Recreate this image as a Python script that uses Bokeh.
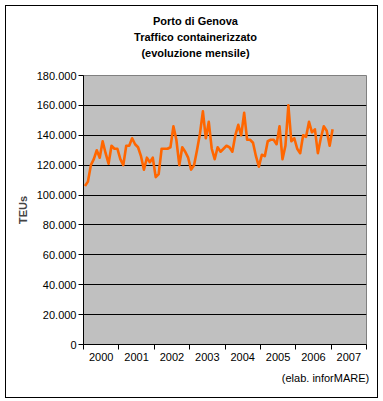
from bokeh.plotting import figure
from bokeh.models import FixedTicker, Range1d, LinearAxis
from bokeh.embed import file_html
from bokeh.resources import INLINE

# ---- data ----
years = ["2000", "2001", "2002", "2003", "2004", "2005", "2006", "2007"]
y_ticks = [0, 20000, 40000, 60000, 80000, 100000, 120000, 140000, 160000, 180000]
y_tick_labels = ["0", "20.000", "40.000", "60.000", "80.000", "100.000",
                 "120.000", "140.000", "160.000", "180.000"]
# monthly TEUs, Jan 2000 ... Jan 2007
teu_2000 = [106000, 109000, 120000, 124000, 130000, 125000, 136000, 128000, 121000, 133000, 131000, 131000]
teu_2001 = [124000, 120000, 133000, 133000, 138000, 134000, 132000, 126000, 117000, 125000, 122000, 125000]
teu_2002 = [112000, 114000, 131000, 131000, 131000, 132000, 146000, 137000, 120000, 132000, 129000, 125000]
teu_2003 = [117000, 120000, 130000, 141000, 156000, 138000, 149000, 131000, 124000, 132000, 129000, 131000]
teu_2004 = [133000, 132000, 129000, 140000, 147000, 140000, 155000, 137000, 137000, 135000, 126000, 119000]
teu_2005 = [127000, 126000, 136000, 137000, 137000, 134000, 146000, 124000, 133000, 160000, 136000, 138000]
teu_2006 = [131000, 128000, 140000, 139000, 149000, 142000, 144000, 128000, 138000, 146000, 143000, 133000]
teu_2007 = [144000]
teu = teu_2000 + teu_2001 + teu_2002 + teu_2003 + teu_2004 + teu_2005 + teu_2006 + teu_2007
months = list(range(len(teu)))

title_lines = ["Porto di Genova", "Traffico containerizzato", "(evoluzione mensile)"]
y_title = "TEUs"
source_note = "(elab. inforMARE)"

FONT = "Liberation Sans"
W, H = 373, 393

p = figure(width=W, height=H, output_backend="svg", toolbar_location=None,
           x_range=Range1d(-0.5, 12 * len(years) - 0.5),
           y_range=Range1d(y_ticks[0], y_ticks[-1]),
           min_border_left=77, min_border_right=13,
           min_border_top=69, min_border_bottom=55)
p.styles = {"border": "1px solid black", "margin-left": "5px", "margin-top": "5px"}
p.background_fill_color = "#C0C0C0"
p.border_fill_color = "white"
p.outline_line_color = "#808080"
p.outline_line_width = 1

p.line(months, teu, line_color="#FF6600", line_width=2.6, line_join="round")

# y axis
p.yaxis.ticker = FixedTicker(ticks=y_ticks)
p.yaxis.major_label_overrides = {t: s for t, s in zip(y_ticks, y_tick_labels)}
p.yaxis.major_tick_out = 5
p.yaxis.major_tick_in = 0
p.yaxis.minor_tick_line_color = None
p.yaxis.major_label_standoff = 2
p.yaxis.axis_label = y_title
p.yaxis.axis_label_text_font = FONT
p.yaxis.axis_label_text_font_style = "bold"
p.yaxis.axis_label_text_font_size = "11px"
p.yaxis.axis_label_standoff = 5

# x axis: year labels centred between boundary ticks
centers = [12 * i + 5.5 for i in range(len(years))]
bounds = [12 * i - 0.5 for i in range(len(years) + 1)]
p.xaxis.ticker = FixedTicker(ticks=centers, minor_ticks=bounds)
p.xaxis.major_label_overrides = {c: s for c, s in zip(centers, years)}
p.xaxis.major_tick_out = 0
p.xaxis.major_tick_in = 0
p.xaxis.minor_tick_out = 5
p.xaxis.minor_tick_in = 0
p.xaxis.minor_tick_line_color = "black"
p.xaxis.major_label_standoff = 3

for ax in (p.xaxis, p.yaxis):
    ax.axis_line_color = "black"
    ax.major_tick_line_color = "black"
    ax.major_label_text_font = FONT
    ax.major_label_text_font_size = "11px"
    ax.major_label_text_color = "black"

p.xgrid.grid_line_color = None
p.ygrid.ticker = FixedTicker(ticks=y_ticks[:-1])
p.ygrid.grid_line_color = "black"
p.ygrid.grid_line_width = 1

p.title.text = ""


def text_axis(txt, at, standoff, bold):
    """A bare axis used only to place one text outside the plot frame."""
    ax = LinearAxis(ticker=FixedTicker(ticks=[at], minor_ticks=[]),
                    major_label_overrides={at: txt})
    ax.axis_line_color = None
    ax.major_tick_line_color = None
    ax.minor_tick_line_color = None
    ax.major_tick_out = 0
    ax.major_tick_in = 0
    ax.major_label_standoff = standoff
    ax.major_label_text_font = FONT
    ax.major_label_text_font_size = "11px"
    ax.major_label_text_font_style = "bold" if bold else "normal"
    ax.major_label_text_color = "black"
    return ax


# title lines, centred over the whole chart (closest to the plot first)
TITLE_X = 37.5
for txt, so in zip(reversed(title_lines), (17, 1, 1)):
    p.add_layout(text_axis(txt, TITLE_X, so, True), "above")

# source note at bottom right
p.add_layout(text_axis(source_note, 81.6, 8, False), "below")

open("out.html", "w").write(file_html(p, INLINE))
